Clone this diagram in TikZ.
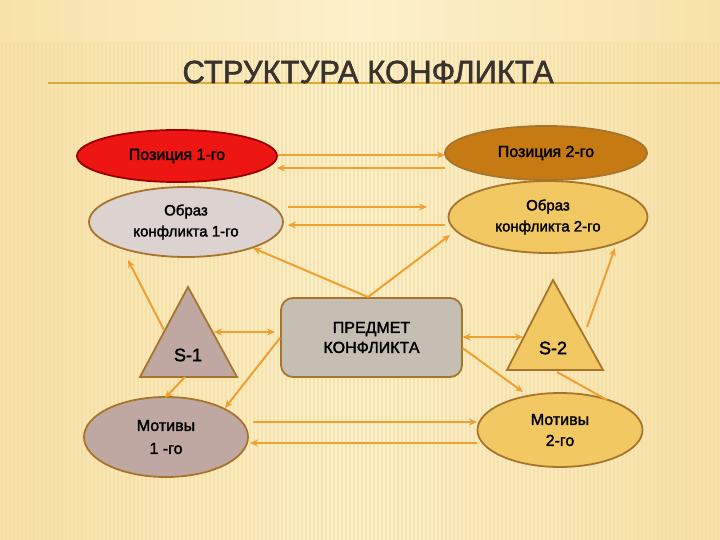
\documentclass[tikz,border=0pt]{standalone}
\usepackage{fontspec}
\setmainfont{Liberation Sans}
\newfontfamily\medf{Liberation Sans}[FakeBold=2]
\newfontfamily\titlef{Liberation Sans}[FakeBold=1.6]
\usetikzlibrary{shapes.geometric,arrows.meta,calc}
\definecolor{bgc}{HTML}{FCF1CB}
\definecolor{bgside}{HTML}{F8E2AA}
\definecolor{stripe}{HTML}{F1D99C}
\definecolor{brd}{HTML}{A8742C}
\definecolor{conn}{HTML}{F0A030}
\definecolor{titlec}{HTML}{3A322C}
\definecolor{redf}{HTML}{EE1612}
\definecolor{brownf}{HTML}{C67A14}
\definecolor{greyf}{HTML}{DCD2CF}
\definecolor{goldf}{HTML}{F2C863}
\definecolor{rosef}{HTML}{BFA8A2}
\definecolor{boxf}{HTML}{C5BEB2}
\definecolor{lineg}{HTML}{D9A93A}
\begin{document}
\begin{tikzpicture}[x=1pt,y=-1pt,
  ell/.style={ellipse, draw=brd, line width=1.8pt, inner sep=0pt, align=center, text=black},
  tri/.style={draw=brd, line width=1.8pt, line join=miter},
  cn/.style={draw=conn, line width=2pt, -{Stealth[length=8pt,width=7pt]}},
  cnb/.style={draw=conn, line width=2pt, {Stealth[length=8pt,width=7pt]}-{Stealth[length=8pt,width=7pt]}},
  cnl/.style={draw=conn, line width=2pt},
  f16/.style={font=\medf\fontsize{16}{19}\selectfont},
  f15/.style={font=\medf\fontsize{15}{21}\selectfont}]
\useasboundingbox (0,0) rectangle (720,540);
% background
\shade[left color=bgside, right color=bgside, middle color=bgc] (0,0) rectangle (720,540);
\foreach \x in {2,6,...,720} \draw[stripe, line width=1.2pt, opacity=0.5] (\x,42) -- (\x,540);
% title
\draw[lineg, line width=1.5pt] (48,83) -- (720,83);
\node[anchor=base, text=titlec, font=\titlef\fontsize{32}{36}\selectfont, xscale=0.97] (title) at (368,83) {СТРУКТУРА КОНФЛИКТА};
% ellipses
\node[ell, fill=redf, draw=red!60!black, minimum width=200, minimum height=52, f16] (pos1) at (177,156) {Позиция 1-го};
\node[ell, fill=brownf, minimum width=202, minimum height=54, f16] (pos2) at (546,153) {Позиция 2-го};
\node[ell, fill=greyf, minimum width=194, minimum height=70, f15] (obr1) at (186,222) {Образ\\конфликта 1-го};
\node[ell, fill=goldf, minimum width=199, minimum height=72, f15] (obr2) at (548,217) {Образ\\конфликта 2-го};
\node[ell, fill=rosef, minimum width=164, minimum height=80, font=\medf\fontsize{16}{23}\selectfont] (mot1) at (166,437) {Мотивы\\1 -го};
\node[ell, fill=goldf, minimum width=165, minimum height=74, font=\medf\fontsize{16}{21}\selectfont] (mot2) at (560,430) {Мотивы\\2-го};
% box
\node[draw=brd, line width=1.8pt, fill=boxf, rounded corners=12pt, minimum width=181, minimum height=79, align=center, font=\medf\fontsize{16}{20}\selectfont] (box) at (371.5,337.5) {ПРЕДМЕТ\\КОНФЛИКТА};
% triangles
\draw[tri, fill=rosef] (188,287) -- (237,377) -- (140,377) -- cycle;
\draw[tri, fill=goldf] (553,280) -- (603,370) -- (507,370) -- cycle;
\node[font=\medf\fontsize{18}{20}\selectfont] (s1) at (188,355) {S-1};
\node[font=\medf\fontsize{18}{20}\selectfont] (s2) at (553,348) {S-2};
% connectors
\draw[cn] ($(pos1)+(101,-1)$) -- ($(pos2)+(-101,2)$);
\draw[cn] ($(pos2)+(-101,15)$) -- ($(pos1)+(100,12)$);
\draw[cn] ($(obr1)+(102,-15)$) -- ($(obr2)+(-121,-10)$);
\draw[cn] ($(obr2)+(-103,8)$) -- ($(obr1)+(102,3)$);
\draw[cn] ($(box)+(-3.5,-40.5)$) -- ($(obr1)+(67,26)$);
\draw[cn] ($(box)+(-3.5,-40.5)$) -- ($(obr2)+(-98,18)$);
\draw[cn] ($(s1)+(-24,-25)$) -- ($(obr1)+(-58,38)$);
\draw[cnb] ($(s1)+(26,-23)$) -- ($(box)+(-96.5,-5.5)$);
\draw[cn] ($(box)+(-91.5,0.5)$) -- ($(mot1)+(59,-29)$);
\draw[cn] ($(s1)+(-3,22)$) -- ($(mot1)+(-1,-39)$);
\draw[cnb] ($(box)+(91,-0.5)$) -- ($(s2)+(-30,-11)$);
\draw[cn] ($(box)+(91,10.5)$) -- ($(mot2)+(-37,-38)$);
\draw[cn] ($(s2)+(34,-21)$) -- ($(obr2)+(67,31)$);
\draw[cnl] ($(s2)+(4,24)$) -- ($(mot2)+(47,-30)$);
\draw[cn] ($(mot1)+(87,-15)$) -- ($(mot2)+(-83,-8)$);
\draw[cn] ($(mot2)+(-83,13)$) -- ($(mot1)+(84,6)$);
\end{tikzpicture}
\end{document}
